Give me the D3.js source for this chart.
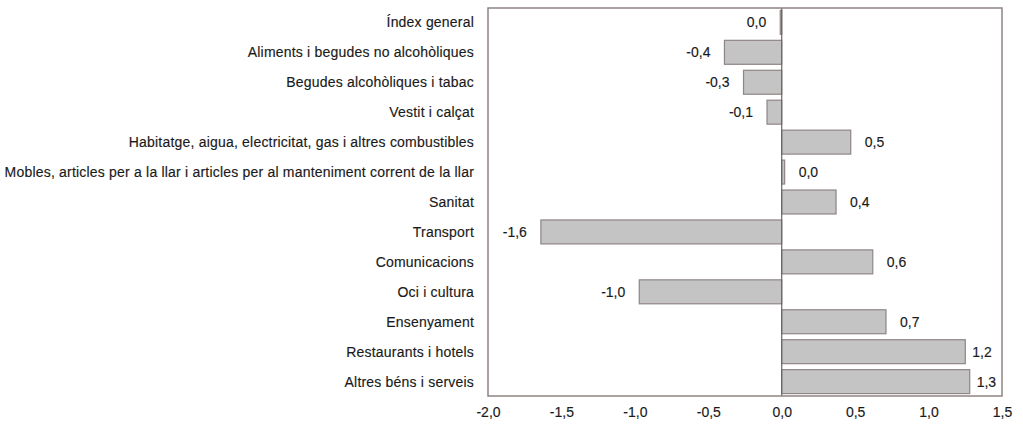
<!DOCTYPE html>
<html>
<head>
<meta charset="utf-8">
<script src="https://cdn.jsdelivr.net/npm/d3@7"></script>
<style>
  body { margin: 0; background: #fff; }
  text { font-family: "Liberation Sans", Arial, sans-serif; fill: #1a1a1a; stroke: #1a1a1a; stroke-width: 0.15px; }
</style>
</head>
<body>
<div id="chart"></div>
<script>
var categories = [
    "Índex general",
    "Aliments i begudes no alcohòliques",
    "Begudes alcohòliques i tabac",
    "Vestit i calçat",
    "Habitatge, aigua, electricitat, gas i altres combustibles",
    "Mobles, articles per a la llar i articles per al manteniment corrent de la llar",
    "Sanitat",
    "Transport",
    "Comunicacions",
    "Oci i cultura",
    "Ensenyament",
    "Restaurants i hotels",
    "Altres béns i serveis"
];
var values = [-0.01, -0.39, -0.26, -0.10, 0.47, 0.02, 0.37, -1.64, 0.62, -0.97, 0.71, 1.25, 1.28];
var valueLabels = ["0,0", "-0,4", "-0,3", "-0,1", "0,5", "0,0", "0,4", "-1,6", "0,6", "-1,0", "0,7", "1,2", "1,3"];
var tickValues = [-2.0, -1.5, -1.0, -0.5, 0.0, 0.5, 1.0, 1.5];

var width = 1023;
var height = 426;
var plotLeft = 488, plotRight = 1002, plotTop = 8, plotBottom = 396;

var svg = d3.select("#chart").append("svg")
    .attr("width", width)
    .attr("height", height);

var x = d3.scaleLinear().domain([-2, 1.5]).range([plotLeft, plotRight]);
var y = d3.scaleBand().domain(categories).range([plotTop, plotBottom])
    .paddingInner(0.2).paddingOuter(0.08);

// bars
svg.selectAll("rect.bar")
    .data(values)
    .enter()
    .append("rect")
    .attr("class", "bar")
    .attr("x", function (d) { return Math.min(x(0), x(d)); })
    .attr("y", function (d, i) { return y(categories[i]); })
    .attr("width", function (d) { return Math.max(1.5, Math.abs(x(d) - x(0))); })
    .attr("height", y.bandwidth())
    .attr("fill", "#c4c4c4")
    .attr("stroke", "#8e8684")
    .attr("stroke-width", 1.2);

// zero line
svg.append("line")
    .attr("x1", x(0)).attr("x2", x(0))
    .attr("y1", plotTop).attr("y2", plotBottom)
    .attr("stroke", "#6b6463")
    .attr("stroke-width", 1.2);

// frame
svg.append("rect")
    .attr("x", plotLeft).attr("y", plotTop)
    .attr("width", plotRight - plotLeft).attr("height", plotBottom - plotTop)
    .attr("fill", "none")
    .attr("stroke", "#8e8482")
    .attr("stroke-width", 1.5);

// value labels
svg.selectAll("text.val")
    .data(values)
    .enter()
    .append("text")
    .attr("class", "val")
    .attr("x", function (d) {
        if (d < 0) return x(d) - 14;
        return x(d) + (d > 1 ? 7 : 14);
    })
    .attr("y", function (d, i) { return y(categories[i]) + y.bandwidth() / 2; })
    .attr("dy", "0.35em")
    .attr("text-anchor", function (d) { return d < 0 ? "end" : "start"; })
    .attr("font-size", "14px")
    .text(function (d, i) { return valueLabels[i]; });

// category labels
svg.selectAll("text.cat")
    .data(categories)
    .enter()
    .append("text")
    .attr("class", "cat")
    .attr("x", 474)
    .attr("y", function (d) { return y(d) + y.bandwidth() / 2; })
    .attr("dy", "0.35em")
    .attr("text-anchor", "end")
    .attr("font-size", "14px")
    .attr("letter-spacing", "0.2px")
    .text(function (d) { return d; });

// x axis
var xAxis = d3.axisBottom(x)
    .tickValues(tickValues)
    .tickSize(0)
    .tickPadding(11)
    .tickFormat(function (d) { return d3.format(".1f")(d).replace(".", ",").replace("−", "-"); });

var gx = svg.append("g")
    .attr("transform", "translate(0," + plotBottom + ")")
    .call(xAxis);
gx.select(".domain").remove();
gx.selectAll("text")
    .attr("font-size", "14px")
    .attr("font-family", "Liberation Sans, Arial, sans-serif")
    .attr("fill", "#1a1a1a");
</script>
</body>
</html>
